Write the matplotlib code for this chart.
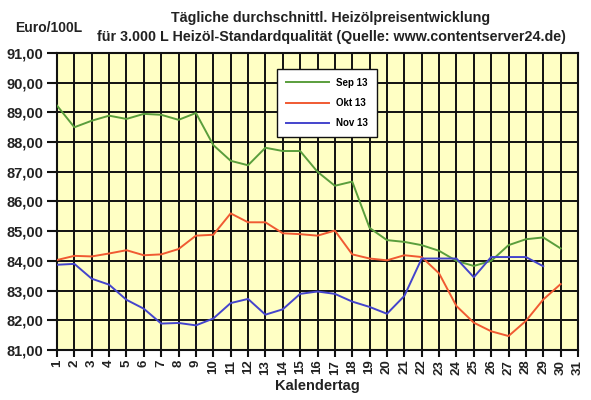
import matplotlib
matplotlib.use("Agg")
import matplotlib.pyplot as plt
from matplotlib.lines import Line2D

plt.rcParams['font.family'] = ['Liberation Sans', 'DejaVu Sans']

days = list(range(1, 32))
day_labels = [str(d) for d in days]

sep13 = [89.23, 88.50, 88.72, 88.89, 88.78, 88.95, 88.92, 88.75, 88.98, 87.90,
         87.37, 87.22, 87.81, 87.70, 87.70, 87.00, 86.53, 86.67, 85.11, 84.70,
         84.64, 84.53, 84.34, 84.00, 83.83, 84.00, 84.53, 84.73, 84.79, 84.42]
okt13 = [84.03, 84.17, 84.15, 84.25, 84.36, 84.19, 84.22, 84.40, 84.85, 84.88,
         85.60, 85.30, 85.30, 84.93, 84.90, 84.85, 85.02, 84.22, 84.08, 84.02,
         84.19, 84.13, 83.58, 82.48, 81.92, 81.63, 81.47, 81.98, 82.70, 83.22]
nov13 = [83.87, 83.90, 83.40, 83.20, 82.69, 82.39, 81.89, 81.91, 81.83, 82.06,
         82.58, 82.72, 82.19, 82.37, 82.89, 82.97, 82.89, 82.63, 82.45, 82.22,
         82.82, 84.08, 84.08, 84.08, 83.45, 84.13, 84.13, 84.13, 83.82]

series_names = ["Sep 13", "Okt 13", "Nov 13"]
series_colors = ["#5a9e3c", "#f05a32", "#4444cc"]
y_ticks = [81, 82, 83, 84, 85, 86, 87, 88, 89, 90, 91]

fig = plt.figure(figsize=(5.91, 4.0), dpi=100)
ax = fig.add_axes([57/591, 50/400, (578-57)/591, (350-53)/400])
ax.set_facecolor("#ffffc4")

for vals, col in zip([sep13, okt13, nov13], series_colors):
    ax.plot(days[:len(vals)], vals, color=col, lw=1.4, zorder=3)

ax.set_xlim(1, 31)
ax.set_ylim(81, 91)
ax.set_xticks(days)
ax.set_xticklabels(day_labels, rotation=90, fontsize=9.5, fontweight='bold', color='#222222')
ax.set_yticks(y_ticks)
ax.set_yticklabels([f"{v},00" for v in y_ticks], fontsize=10.5, fontweight='bold', color='#222222')
ax.grid(True, color='#111111', lw=1.4, zorder=1)
ax.set_axisbelow(True)
for s in ax.spines.values():
    s.set_color('#111111')
    s.set_linewidth(1.5)
ax.tick_params(axis='y', direction='out', length=7, width=1.5, color='#111111', pad=3)
ax.tick_params(axis='x', direction='out', length=5, width=1.5, color='#111111', pad=2)

ax.set_xlabel("Kalendertag", fontsize=10.5, fontweight='bold', color='#222222', labelpad=3)

fig.text(331/591, 1-18/400, "Tägliche durchschnittl. Heizölpreisentwicklung",
         ha='center', va='center', fontsize=10.3, fontweight='bold', color='#222222')
fig.text(331/591, 1-37/400, "für 3.000 L Heizöl-Standardqualität (Quelle: www.contentserver24.de)",
         ha='center', va='center', fontsize=10.3, fontweight='bold', color='#222222')
fig.text(15/591, 1-28/400, "Euro/100L", ha='left', va='center', fontsize=10,
         fontweight='bold', color='#222222')

handles = [Line2D([0], [0], color=c, lw=1.4) for c in series_colors]
leg = ax.legend(handles, series_names, loc='upper left',
                bbox_to_anchor=((277-57)/(578-57), (350-69)/(350-53)),
                frameon=True, fancybox=False, edgecolor='#111111', framealpha=1,
                prop={'size': 7, 'weight': 'bold'}, handlelength=4.4,
                borderpad=0.9, labelspacing=1.05, handletextpad=0.8, borderaxespad=0)
leg.get_frame().set_linewidth(1.0)
leg.set_zorder(5)

fig.savefig("out.png", dpi=100, facecolor='white')
